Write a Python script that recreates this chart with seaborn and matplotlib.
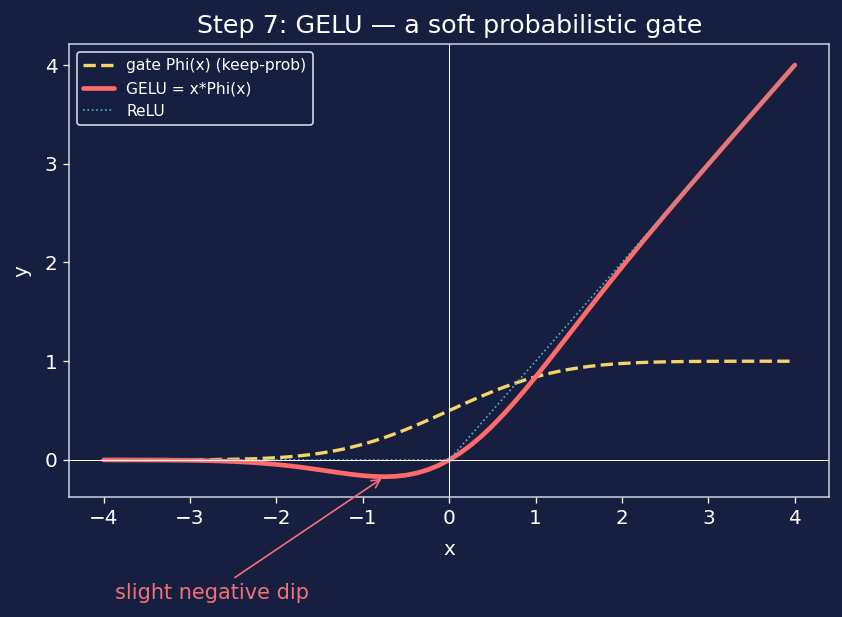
import numpy as np
import matplotlib
matplotlib.use("Agg")
import matplotlib.pyplot as plt
import seaborn as sns

BG = "#161f3f"
FG = "#ffffff"
SPINE = "#d0d6e6"

# values (finer spacing where the curves bend)
x_vals = [-4.0, -3.75, -3.5, -3.25, -3.0, -2.75, -2.5, -2.25, -2.0, -1.875, -1.75,
          -1.625, -1.5, -1.375, -1.25, -1.125, -1.0, -0.875, -0.75, -0.625, -0.5,
          -0.375, -0.25, -0.125, 0.0, 0.125, 0.25, 0.375, 0.5, 0.625, 0.75, 0.875,
          1.0, 1.125, 1.25, 1.375, 1.5, 1.625, 1.75, 1.875, 2.0, 2.25, 2.5, 2.75,
          3.0, 3.25, 3.5, 3.75, 4.0]
phi_vals = [0.00003, 0.00009, 0.00023, 0.00058, 0.00135, 0.00298, 0.00621, 0.01222,
            0.02275, 0.0304, 0.04006, 0.05208, 0.06681, 0.08459, 0.10565, 0.13029,
            0.15866, 0.19079, 0.22663, 0.26599, 0.30854, 0.35383, 0.40129, 0.45027,
            0.5, 0.54973, 0.59871, 0.64617, 0.69146, 0.73401, 0.77337, 0.80921,
            0.84134, 0.86971, 0.89435, 0.91541, 0.93319, 0.94792, 0.95994, 0.9696,
            0.97725, 0.98778, 0.99379, 0.99702, 0.99865, 0.99942, 0.99977, 0.99991,
            0.99997]
gelu_vals = [-0.00013, -0.00033, -0.00081, -0.00189, -0.00405, -0.0082, -0.01553,
             -0.0275, -0.0455, -0.057, -0.07011, -0.08466, -0.10021, -0.11633,
             -0.13206, -0.14659, -0.15866, -0.16695, -0.16997, -0.16625, -0.15427,
             -0.13268, -0.10032, -0.05628, 0.0, 0.06872, 0.14968, 0.24233, 0.34573,
             0.45875, 0.58003, 0.70805, 0.84134, 0.97841, 1.11794, 1.25868, 1.39979,
             1.54034, 1.6799, 1.818, 1.9545, 2.2225, 2.48448, 2.74181, 2.99595,
             3.24811, 3.49919, 3.74966, 3.99987]
relu_x = [-4.0, 0.0, 4.0]
relu_y = [0.0, 0.0, 4.0]

sns.set_style("dark")
plt.rcParams.update({
    "figure.facecolor": BG, "axes.facecolor": BG, "axes.edgecolor": SPINE,
    "axes.labelcolor": FG, "xtick.color": FG, "ytick.color": FG,
    "text.color": FG, "axes.grid": False,
    "xtick.bottom": True, "ytick.left": True,
    "xtick.major.size": 3.5, "ytick.major.size": 3.5,
})
plt.rcParams["font.family"] = ["DejaVu Sans"]

fig, ax = plt.subplots(figsize=(842 / 120, 617 / 120), dpi=120)
fig.subplots_adjust(left=0.082, right=0.985, top=0.928, bottom=0.194)

sns.lineplot(x=x_vals, y=phi_vals, ax=ax, color="#f5d46a", lw=2, linestyle="--",
             label="gate Phi(x) (keep-prob)")
sns.lineplot(x=x_vals, y=gelu_vals, ax=ax, color="#ff6b6b", lw=2.8,
             label="GELU = x*Phi(x)")
sns.lineplot(x=relu_x, y=relu_y, ax=ax, color="#4fb8d8", lw=1, linestyle=":",
             label="ReLU")

ax.axhline(0, color=FG, lw=0.6)
ax.axvline(0, color=FG, lw=0.6)

for s in ax.spines.values():
    s.set_color(SPINE)
    s.set_linewidth(0.9)

ax.set_title("Step 7: GELU — a soft probabilistic gate", fontsize=15.2, color=FG,
             pad=7)
ax.set_xlabel("x", fontsize=12, labelpad=7)
ax.set_ylabel("y", fontsize=12, labelpad=8)
ax.tick_params(labelsize=12, colors=FG)

ax.annotate("slight negative dip", xy=(-0.75, -0.17), xytext=(-2.75, -1.35),
            ha="center", va="center", color="#f2707a", fontsize=12.5,
            annotation_clip=False,
            arrowprops=dict(arrowstyle="->", color="#f2707a", lw=1))

leg = ax.legend(loc="upper left", fontsize=9.3, facecolor=BG, edgecolor=SPINE,
                framealpha=1)
for t in leg.get_texts():
    t.set_color(FG)

fig.savefig("out.png", dpi=120, facecolor=BG)
